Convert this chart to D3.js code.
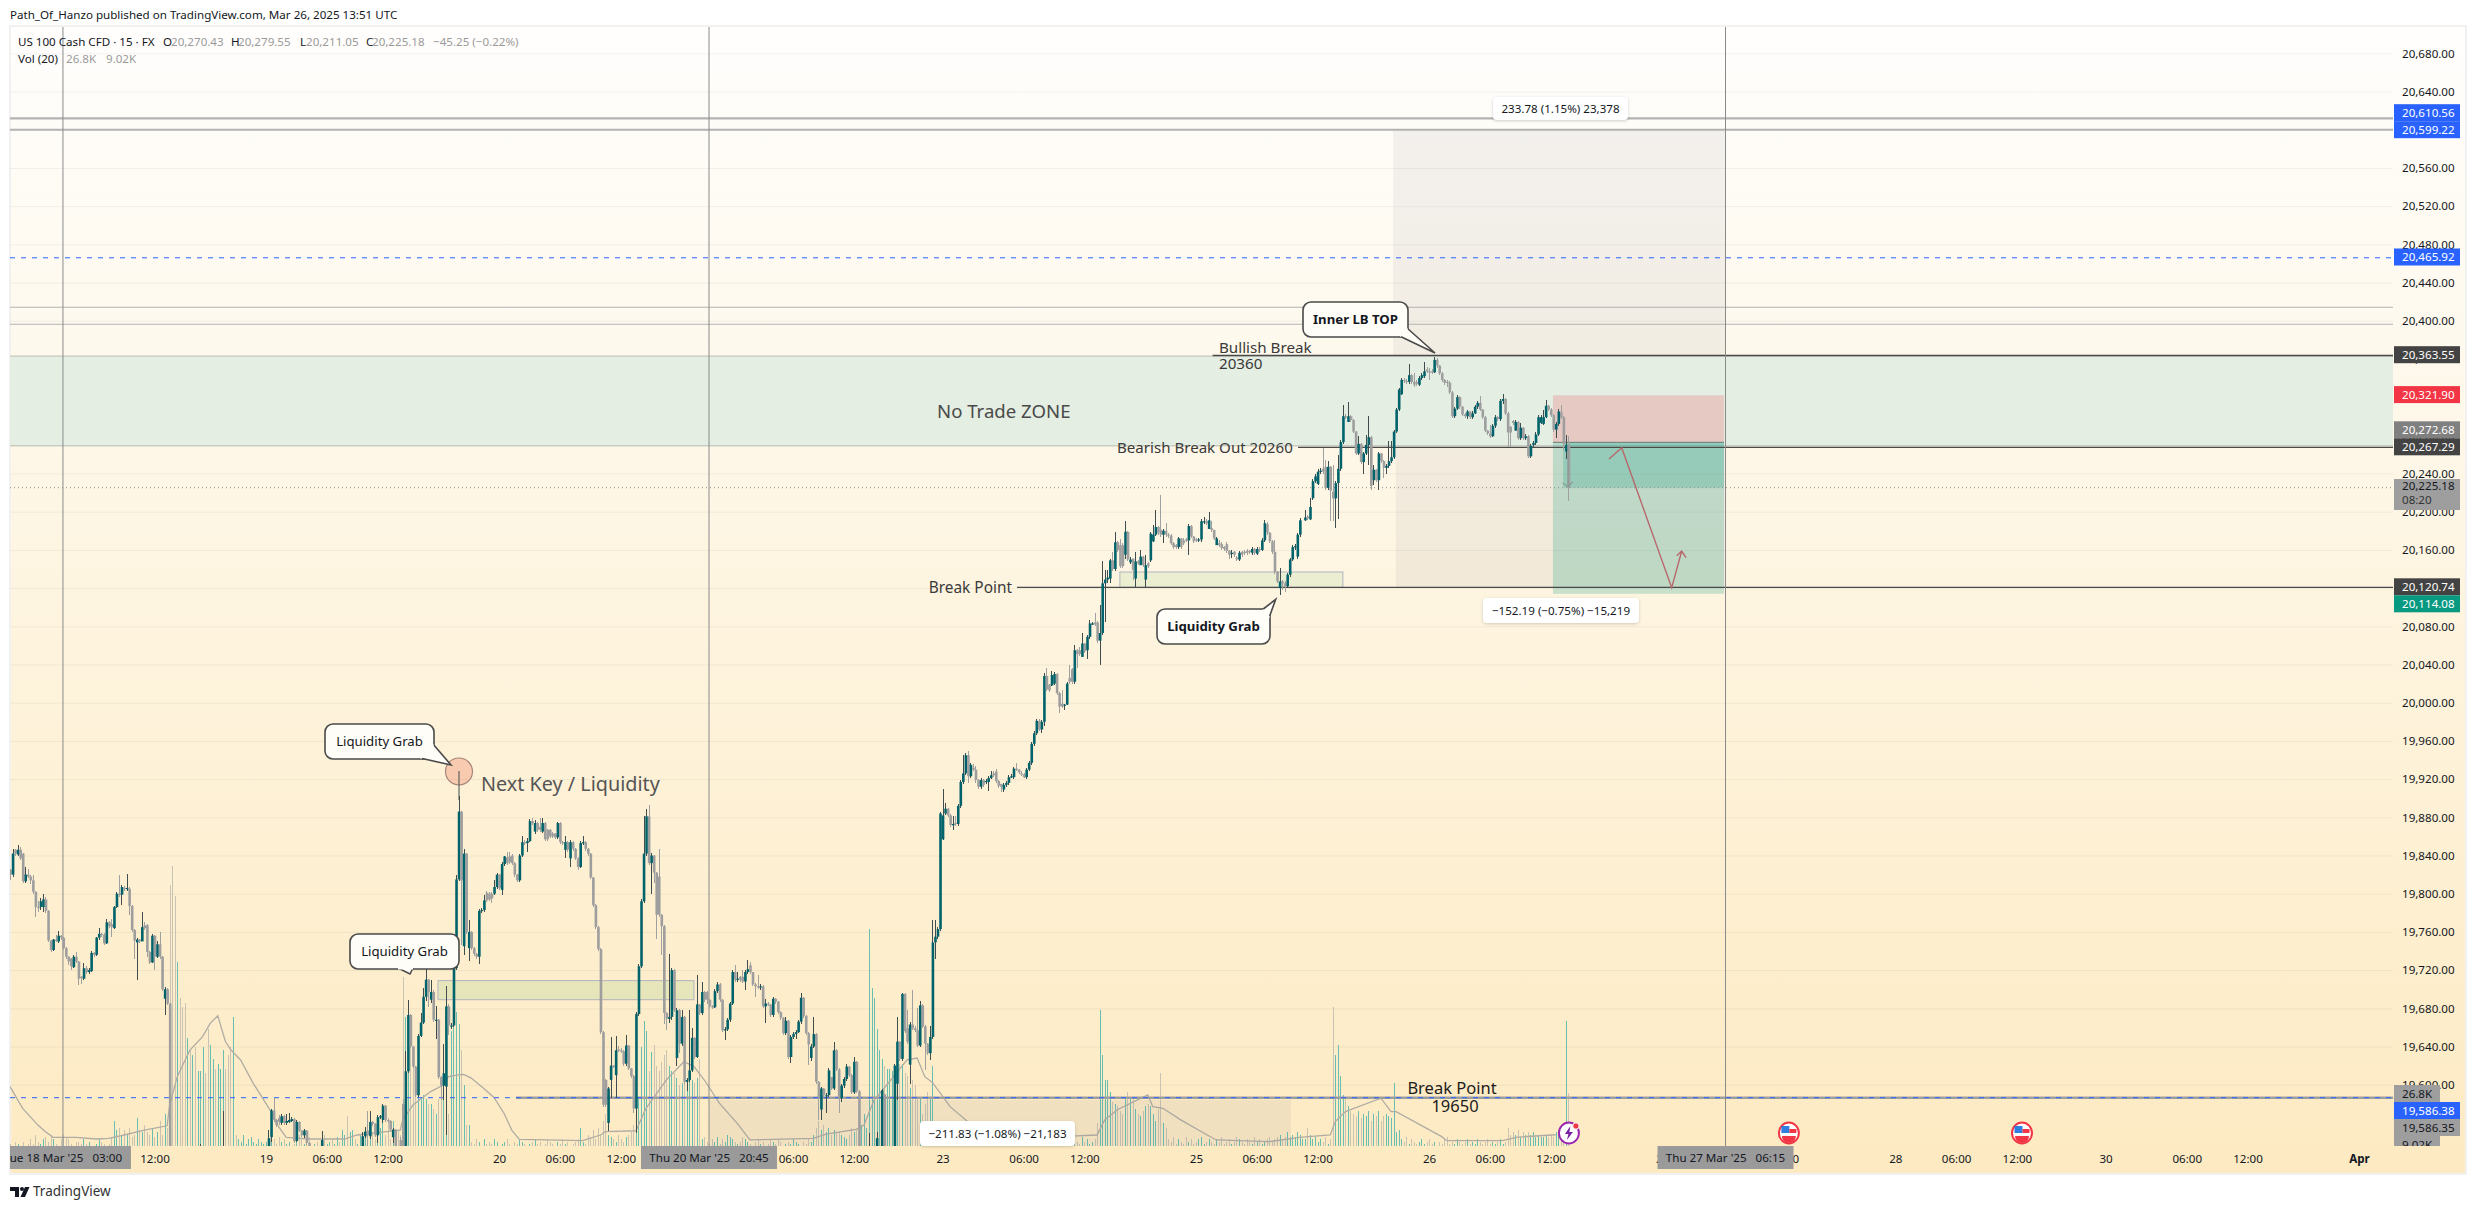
<!DOCTYPE html>
<html><head><meta charset="utf-8"><title>US 100 Cash CFD</title>
<script src="https://d3js.org/d3.v7.min.js"></script>
<style>html,body{margin:0;background:#fff}svg{display:block}text{font-family:"Noto Sans",sans-serif}</style>
</head><body><svg id="c" width="2475" height="1209"></svg>
<script>
// Candles: rows are [close, high, low, optional open]; open defaults to the previous close.
const segA=[[19820,19826,19814,19825],[19842,19847,19818],[19842,19847,19840,19846],[19846,19851,19840,19841],[19837,19849,19835],[19813,19843,19811,19842],[19820,19828,19811],[19818,19826,19816],[19814,19820,19810],[19802,19820,19800],
[19786,19803,19776],[19785,19792,19781],[19792,19795,19783,19786],[19794,19800,19781,19786],[19782,19797,19780],[19751,19783,19749],[19741,19752,19739],[19752,19753,19740],[19751,19757,19749],[19756,19761,19748,19750],
[19754,19757,19752],[19743,19755,19741],[19734,19744,19732],[19729,19735,19725],[19724,19733,19720,19732],[19734,19736,19722,19723],[19729,19739,19727],[19711,19730,19704],[19712,19714,19705,19713],[19722,19727,19710,19711],
[19718,19724,19716],[19720,19722,19716,19718],[19738,19740,19718,19719],[19736,19739,19734],[19754,19755,19735],[19758,19764,19752],[19757,19759,19755],[19748,19759,19746],[19770,19773,19747],[19766,19771,19764],
[19765,19773,19755,19768],[19786,19787,19763,19764],[19800,19802,19785],[19799,19820,19797],[19807,19809,19788],[19805,19808,19803,19806],[19806,19821,19803,19805],[19787,19807,19778,19805],[19762,19788,19760],[19751,19763,19732],
[19752,19754,19710,19749],[19750,19753,19748],[19765,19781,19750],[19764,19770,19762,19767],[19739,19768,19734,19767],[19728,19740,19726],[19756,19758,19727],[19734,19757,19720],[19747,19750,19733],[19734,19760,19732],
[19700,19735,19698],[19700,19702,19673,19690],[19685,19701,19683],[19535,19686,19520]];
const segB=[[19510,19538,19500,19500]]; const segBStart=75;
const segC=[[19510,19572,19500,19500]]; const segCStart=84;
const segD=[[19544,19553,19530,19530],[19573,19575,19540,19545],[19563,19586,19561],[19558,19564,19556],[19561,19568,19558,19565],[19567,19569,19558,19560],[19560,19568,19558],[19562,19569,19558,19560],[19563,19570,19560,19561],[19564,19566,19561,19562],
[19541,19565,19539,19564],[19561,19563,19540],[19552,19562,19550],[19547,19553,19545],[19552,19554,19544],[19539,19553,19537],[19533,19540,19525]]; const segDStart=102;
const segE=[[19542,19552,19525,19530]]; const segEStart=123;
const segF=[[19546,19550,19525,19533],[19551,19556,19544],[19547,19572,19535,19552],[19561,19572,19543,19546],[19559,19562,19557],[19547,19560,19545],[19566,19568,19539],[19567,19568,19564,19566],[19578,19580,19560,19563],[19563,19579,19561],
[19562,19564,19560],[19553,19563,19551],[19553,19555,19539,19545],[19535,19554,19530],[19530,19535,19525],[19535,19545,19528,19542],[19535,19585,19525,19580],[19614,19635,19525,19530],[19673,19689,19612],[19640,19674,19638],
[19619,19641,19617],[19589,19620,19587],[19651,19653,19587],[19665,19675,19650],[19692,19701,19664],[19710,19727,19688],[19697,19711,19681],[19697,19710,19686,19689],[19668,19699,19666,19697],[19668,19682,19648],
[19608,19669,19606],[19599,19609,19584],[19612,19643,19584,19599],[19682,19703,19547,19598],[19662,19684,19652],[19662,19665,19658],[19722,19724,19660],[19815,19820,19720],[19886,19902,19813],[19814,19887,19746,19886],
[19842,19847,19736,19745],[19760,19843,19758],[19760,19772,19730,19743],[19743,19761,19741,19760],[19737,19744,19735],[19734,19738,19732],[19782,19784,19726],[19783,19785,19780],[19793,19799,19781],[19793,19803,19791,19801],
[19794,19802,19792,19800],[19795,19802,19790,19800],[19807,19814,19799,19800],[19820,19822,19805],[19806,19821,19804],[19831,19833,19799,19804],[19839,19840,19829],[19832,19844,19830,19838],[19833,19844,19831,19839],[19832,19842,19830,19840],
[19820,19833,19818],[19814,19821,19812],[19840,19842,19812],[19854,19860,19838],[19853,19856,19851],[19855,19858,19844,19853],[19876,19878,19854],[19874,19879,19872],[19874,19877,19863,19865],[19867,19875,19865,19874],
[19867,19879,19865,19870],[19874,19879,19864,19865],[19857,19875,19855],[19857,19868,19855,19867],[19860,19868,19858,19867],[19860,19865,19858,19863],[19859,19864,19857,19863],[19874,19875,19857],[19854,19875,19852],[19853,19855,19851],
[19854,19860,19837,19846],[19846,19855,19844,19854],[19854,19856,19828,19837],[19847,19855,19845,19854],[19837,19848,19835],[19828,19838,19825],[19853,19855,19827],[19854,19860,19851],[19847,19855,19845],[19842,19848,19840],
[19817,19843,19815],[19788,19818,19786],[19765,19789,19763],[19742,19766,19740],[19655,19743,19653],[19579,19656,19577],[19579,19606,19577,19605],[19596,19598,19551,19560],[19620,19650,19586,19605],[19619,19621,19617],
[19636,19651,19586,19610],[19636,19640,19634,19637],[19635,19638,19633],[19622,19636,19620],[19641,19652,19620],[19617,19642,19615],[19609,19618,19607],[19575,19610,19570],[19674,19676,19549],[19724,19726,19672],
[19792,19794,19722],[19842,19881,19790],[19881,19889,19840],[19832,19893,19830],[19840,19843,19800],[19822,19841,19811],[19778,19823,19753],[19778,19847,19776,19818],[19766,19779,19736],[19675,19767,19664],
[19669,19676,19657],[19671,19737,19665],[19720,19722,19668],[19678,19721,19676],[19678,19680,19620,19628],[19643,19679,19633],[19671,19678,19641],[19603,19672,19601],[19605,19607,19593],[19615,19678,19603],
[19649,19659,19613],[19629,19650,19627],[19684,19715,19628],[19675,19685,19673],[19697,19708,19673],[19689,19698,19687],[19689,19698,19685,19697],[19682,19690,19680],[19681,19683,19679],[19698,19700,19680],
[19705,19708,19696],[19689,19706,19687],[19657,19690,19655],[19658,19660,19647],[19668,19670,19656],[19685,19687,19666],[19718,19720,19683],[19710,19725,19708],[19711,19718,19708],[19710,19714,19708,19713],
[19708,19720,19706,19713],[19718,19720,19699],[19721,19731,19716],[19718,19729,19716,19725],[19705,19717,19703],[19703,19706,19692],[19702,19715,19700],[19703,19705,19699],[19682,19704,19680],[19685,19690,19665],
[19684,19687,19682],[19673,19685,19671],[19690,19692,19671],[19687,19691,19685],[19676,19688,19674],[19670,19677,19668],[19654,19671,19652],[19667,19671,19652],[19629,19668,19627],[19650,19652,19623],
[19653,19655,19648],[19655,19657,19648],[19666,19668,19654],[19691,19696,19664],[19672,19692,19670],[19654,19673,19652],[19642,19655,19621],[19640,19643,19625,19628],[19653,19671,19638],[19603,19654,19601],
[19587,19604,19563],[19596,19598,19563,19574],[19589,19597,19587],[19589,19591,19570],[19615,19617,19587],[19596,19608,19594,19608],[19636,19645,19594],[19616,19637,19614],[19586,19617,19570],[19599,19601,19582],
[19606,19608,19597],[19619,19622,19604],[19610,19620,19608],[19592,19611,19590],[19624,19629,19590],[19593,19625,19591],[19535,19594,19525]]; const segFStart=139;
const segG=[[19515,19549,19505,19505]]; const segGStart=339;
const segH=[[19544,19550,19525,19530]]; const segHStart=342;
const segI=[[19594,19596,19525,19530],[19535,19590,19525,19590]]; const segIStart=344;
const segJ=[[19620,19622,19525,19530],[19645,19671,19584,19601],[19627,19646,19625],[19695,19696,19625],[19656,19696,19654],[19645,19678,19643,19659],[19663,19666,19601,19621],[19659,19699,19657,19663],[19657,19661,19655],[19641,19680,19639],
[19683,19688,19639],[19661,19684,19659],[19643,19662,19615],[19633,19644,19631],[19650,19661,19626],[19749,19772,19648],[19755,19772,19732],[19763,19765,19753],[19884,19886,19761],[19882,19910,19856,19857],
[19889,19895,19882,19884],[19882,19890,19880],[19872,19883,19870],[19873,19881,19867],[19873,19881,19871,19874],[19892,19894,19871],[19917,19919,19890],[19926,19945,19915],[19945,19947,19924],[19923,19949,19916],
[19935,19937,19921],[19930,19936,19928,19932],[19919,19934,19916],[19912,19920,19910],[19919,19921,19910],[19914,19920,19912],[19918,19920,19915,19917],[19921,19923,19908,19917],[19924,19928,19920],[19924,19928,19922,19926],
[19918,19931,19916,19928],[19913,19919,19911],[19912,19915,19907,19915],[19914,19916,19907,19909],[19916,19918,19912],[19922,19924,19914],[19923,19925,19921,19922]]; const segJStart=349;
const segK=[[19931,19933,19920,19922],[19930,19937,19928],[19927,19931,19925],[19925,19928,19923,19926],[19922,19926,19921,19925],[19930,19932,19920],[19937,19939,19928],[19957,19959,19935],[19968,19970,19955],[19981,19983,19966],
[19972,19983,19970],[19980,19982,19968,19972],[20028,20031,19976],[20014,20036,20012],[20013,20020,20011,20019],[20029,20033,20018,20018],[20030,20032,20019,20020],[20010,20031,20008],[19996,20011,19989],[19996,20013,19994,19999],
[19998,19999,19992,19997],[20020,20022,19998],[20022,20040,20020,20026],[20022,20036,20020,20035],[20055,20060,20020],[20051,20056,20036],[20051,20058,20049,20055],[20062,20073,20048,20048],[20054,20063,20052],[20069,20071,20046,20055],
[20083,20087,20067],[20083,20085,20081],[20082,20094,20080,20084],[20065,20086,20063,20084],[20073,20102,20040],[20125,20148,20071],[20129,20139,20085],[20131,20139,20125]]; const segKStart=396;
const segL=[[20149,20151,20125,20130],[20140,20158,20138],[20168,20179,20138],[20160,20169,20158],[20143,20171,20141,20165],[20143,20167,20141,20165],[20179,20190,20150,20155]]; const segLStart=434;
const segM=[[20150,20180,20148,20179],[20150,20153,20145,20147],[20139,20151,20129,20151],[20148,20158,20120,20130],[20146,20149,20144],[20153,20160,20144,20144],[20144,20154,20142],[20144,20155,20120,20129],[20143,20147,20141,20146],[20177,20179,20147,20149],
[20176,20186,20168,20169],[20184,20202,20175],[20178,20185,20176],[20176,20218,20174,20181],[20180,20182,20167,20176],[20176,20188,20174,20180],[20175,20178,20173,20176],[20167,20177,20165],[20163,20168,20161],[20163,20166,20161,20165],
[20172,20174,20161],[20163,20173,20161],[20167,20172,20165,20170],[20170,20173,20168,20171],[20185,20187,20155,20170],[20174,20186,20172],[20169,20175,20167],[20170,20172,20168,20171],[20171,20173,20168,20170],[20190,20192,20168],
[20190,20195,20187,20189],[20188,20192,20186,20190],[20191,20200,20182,20182],[20181,20190,20179,20183],[20172,20181,20170],[20172,20174,20165,20165],[20165,20170,20163,20167],[20162,20168,20160,20166],[20161,20164,20159,20163],[20159,20168,20157,20166],
[20155,20160,20150,20159],[20157,20160,20152,20156],[20155,20159,20153,20158],[20150,20154,20148,20152],[20157,20159,20148,20150],[20155,20159,20153,20158],[20157,20160,20155,20158],[20157,20161,20155,20159],[20158,20160,20156,20159],[20161,20163,20155,20157],
[20157,20162,20155,20161],[20161,20163,20155,20156],[20160,20163,20158,20161],[20170,20172,20159,20160],[20188,20191,20168],[20178,20189,20176,20187],[20169,20179,20167],[20158,20170,20156],[20137,20170,20135],[20127,20138,20125],
[20127,20141,20113,20120],[20125,20128,20118,20127],[20122,20127,20116],[20134,20136,20120],[20150,20152,20132],[20163,20165,20148],[20164,20166,20160,20163],[20176,20178,20150,20153],[20191,20193,20174]]; const segMStart=441;
const segN=[[20194,20202,20190,20191],[20193,20197,20191,20195],[20205,20214,20191,20192],[20232,20234,20212,20214],[20237,20239,20230,20232],[20242,20245,20228,20229],[20243,20246,20240,20242],[20242,20267,20240,20245],[20225,20254,20223,20247],[20247,20253,20223],
[20222,20248,20190],[20214,20249,20190,20221],[20230,20232,20183],[20245,20259,20192],[20273,20275,20243],[20300,20312,20271],[20299,20302,20297],[20300,20315,20294,20294],[20296,20301,20294,20300],[20284,20297,20282],
[20261,20285,20259],[20271,20279,20259],[20252,20272,20250],[20261,20263,20239,20252],[20270,20280,20259],[20278,20300,20249],[20227,20279,20223],[20244,20249,20228,20233],[20233,20245,20231],[20261,20263,20223],
[20253,20262,20251],[20246,20254,20235],[20248,20250,20240],[20253,20274,20246],[20257,20274,20251],[20284,20286,20255],[20307,20309,20282],[20328,20330,20305],[20338,20340,20322,20323],[20337,20340,20335],
[20336,20339,20334],[20343,20355,20334],[20336,20344,20334],[20333,20345,20331],[20334,20338,20332,20336],[20340,20342,20332,20333],[20343,20345,20338],[20347,20357,20340,20342],[20347,20352,20345,20349],[20346,20351,20338],
[20346,20349,20344,20347],[20359,20362,20345],[20353,20361,20351],[20345,20354,20343],[20338,20346,20336],[20335,20339,20333],[20335,20338,20331,20336],[20325,20337,20323],[20300,20326,20298],[20308,20310,20298],
[20320,20322,20307],[20310,20321,20308],[20302,20311,20300],[20300,20303,20298],[20305,20307,20297],[20299,20306,20297],[20303,20305,20297],[20310,20312,20302],[20314,20316,20308],[20307,20321,20305,20314],
[20299,20308,20297],[20285,20300,20283],[20282,20286,20280],[20279,20291,20277],[20290,20292,20278],[20299,20301,20288],[20297,20300,20295],[20316,20318,20295],[20318,20323,20313,20316],[20303,20319,20301],
[20283,20304,20268],[20283,20290,20268,20289],[20293,20296,20291,20295],[20294,20296,20285,20285],[20277,20295,20275,20294],[20288,20293,20275],[20277,20289,20275],[20279,20281,20275],[20258,20280,20256]]; const segNStart=511;
const segO=[[20269,20271,20256,20258],[20272,20274,20268,20270],[20281,20283,20270],[20299,20301,20279],[20299,20301,20292,20293],[20299,20307,20291,20292],[20311,20317,20298],[20307,20312,20305],[20301,20309,20299],[20286,20302,20284],
[20292,20294,20277],[20305,20308,20290],[20299,20312,20297,20304],[20271,20300,20265,20299],[20270,20280,20255,20263],[20225.18,20279.55,20211.05,20270.43]]; const segOStart=600;
const candleSegments=[[0,segA],[segBStart,segB],[segCStart,segC],[segDStart,segD],[segEStart,segE],[segFStart,segF],[segGStart,segG],[segHStart,segH],[segIStart,segI],[segJStart,segJ],[segKStart,segK],[segLStart,segL],[segMStart,segM],[segNStart,segN],[segOStart,segO]];

// Volume in thousands, consecutive bars from index 0.
const volumes=[5,4,6,5,4,6,3,5,7,5,9,6,5,7,8,6,9,7,5,4,
7,9,8,7,5,4,6,6,5,7,5,6,4,3,5,7,6,5,4,5,
8,15,11,12,9,11,9,12,8,9,16,11,10,13,10,9,12,8,10,15,
9,18,12,115,123,110,82,67,63,65,50,45,43,46,36,36,46,35,54,47,41,37,39,37,45,37,43,46,59,9,
7,6,9,5,7,8,6,5,7,6,5,6,8,9,7,5,8,6,7,5,
6,4,5,7,9,7,5,6,8,4,5,6,3,5,9,5,6,7,5,8,
6,11,9,17,10,11,7,5,9,8,11,7,9,10,7,9,12,22,9,16,7,15,9,11,9,
76,59,66,46,43,35,28,25,26,24,22,22,20,18,24,29,32,25,18,53,60,61,56,
45,30,13,13,
6,5,7,6,4,7,5,6,5,7,6,4,5,6,7,5,4,6,5,7,6,5,4,5,6,7,5,6,4,5,7,6,5,4,6,5,7,5,6,4,5,6,7,
12,6,5,9,8,11,7,12,9,15,18,
9,8,7,6,9,7,6,8,9,10,13,32,25,46,57,53,36,44,47,38,36,40,43,45,38,36,35,33,30,31,40,30,34,32,31,33,41,
7,8,6,5,7,6,8,5,7,6,9,8,7,6,5,6,8,7,6,5,4,6,7,5,6,4,5,7,6,5,7,6,4,5,6,5,7,6,5,4,6,5,7,6,
9,12,15,11,13,10,12,9,11,10,10,9,8,7,9,12,10,11,11,13,18,
12,96,71,67,54,45,41,38,37,37,36,38,39,39,39,35,34,29,32,30,25,25,18,22,27,25,38,
7,6,8,5,7,6,7,5,6,8,7,5,6,7,6,5,8,6,7,5,6,7,5,6,8,7,6,5,7,6,5,7,8,6,5,7,6,8,5,6,7,6,5,7,6,8,5,6,7,5,6,7,8,6,5,7,6,5,8,6,7,5,6,7,
14,62,43,32,32,27,23,22,21,19,18,24,27,25,24,20,18,17,19,21,22,21,18,15,20,35,14,12,
7,6,8,5,7,6,5,8,6,7,5,6,7,8,5,6,7,6,5,7,6,8,5,6,7,5,6,8,7,6,5,7,6,5,8,6,7,5,6,7,8,6,7,8,9,7,8,10,8,9,8,10,9,7,
7,12,9,7,8,6,7,6,8,5,7,
63,43,47,34,26,24,21,19,18,17,19,16,18,17,19,15,18,17,19,15,17,18,17,16,31,10,11,
7,6,8,5,7,6,5,6,7,5,6,7,5,6,4,6,5,7,8,5,6,5,7,6,5,6,7,5,6,5,7,6,5,6,7,5,6,5,6,7,5,6,
12,9,10,9,11,8,10,9,10,9,10,8,9,8,8,9,8,9,8,10,9,11,9,57,26.8];
const hiddenDownBars=[64,65,67,68,69,71,73,75,77,78,81,85,86,87,89,119,121,124,127,130,133,136];

const volMaBars=[0,5,11,14,17,26,34,39,45,53,62,63,66,71,76,79,82,85,87,91,96,103,106,109,118,132,137,145,154,155,159,166,171,173,177,179,182,187,191,195,198,201,226,233,235,247,251,259,266,270,274,280,287,292,317,322,334,337,341,346,354,358,361,364,371,378,390,421,429,432,437,449,451,455,462,469,476,497,509,521,523,527,541,545,547,565,567,589,595,610];
const volMaValues=[29.4,20.2,13.1,10.3,7.9,7.9,7.2,7.5,8.9,11,12.8,21.6,33.6,44.9,50.6,56.2,59.4,48.5,45.2,40.7,30.8,18.8,12.4,7.9,7.2,7.2,8.9,9.9,11,15.3,21.6,27.3,30.1,33.6,34.4,34.6,33,28.6,24.8,18,11,7,6.5,8.9,10.3,10.7,20.2,32.2,40,37.8,32.2,22.3,13.8,6.8,7.5,9.3,11.3,13.1,23.7,30.1,40.7,41.5,33.6,31.2,20.9,14.5,6.8,8.5,8.9,15.3,19.6,25.9,20.9,20.2,15.3,11,6.8,6.1,7.9,8.9,14.6,18.8,24.5,18.8,18.8,8.2,6.5,6.5,8,9];

const priceTicks=d3.range(19600,20681,40);
const timeTickBars=[9.3,33,57,101,125,149,193,217,241,285,309,333,368,400,424,468,492,516,560,584,608,652,676,700,744,768,792,827,859,883,927];
const timeTickLabels=["","","12:00","19","06:00","12:00","20","06:00","12:00","","06:00","12:00","23","06:00","12:00","25","06:00","12:00","26","06:00","12:00","27","","12:00","28","06:00","12:00","30","06:00","12:00","Apr"];
const crosshairBars=[20.9,275.85,677];
const crosshairLabels=["Tue 18 Mar '25   03:00","Thu 20 Mar '25   20:45","Thu 27 Mar '25   06:15"];
const eventBars=[702,794];

const svg=d3.select("#c");
const paneL=10,paneR=2393,paneT=27,paneB=1146;
const barPx=2.534;
const lastBar=941;
const X=d3.scaleLinear().domain([0,927]).range([paneL,paneL+927*barPx]);
const Y=d3.scaleLinear().domain([19535.8,20707.6]).range([paneB,paneT]);
const V=d3.scaleLinear().domain([0,100]).range([1156,920]);
const defs=svg.append("defs");
const g=defs.append("linearGradient").attr("id","bg").attr("x1",0).attr("x2",0).attr("y1",0).attr("y2",1);
g.append("stop").attr("offset",0).attr("stop-color","#fffefd");
g.append("stop").attr("offset",.33).attr("stop-color","#fef8ea");
g.append("stop").attr("offset",1).attr("stop-color","#fdeac2");
defs.append("clipPath").attr("id","pane").append("rect").attr("x",paneL).attr("y",paneT).attr("width",paneR-paneL).attr("height",paneB-paneT);
defs.append("clipPath").attr("id","axisclip").append("rect").attr("x",paneL).attr("y",paneB).attr("width",paneR-paneL).attr("height",30);
defs.append("clipPath").attr("id","labclip").append("rect").attr("x",2390).attr("y",paneT).attr("width",80).attr("height",paneB-paneT);
const sh=defs.append("filter").attr("id","sh").attr("x","-10%").attr("y","-20%").attr("width","120%").attr("height","150%");
sh.append("feDropShadow").attr("dx",0).attr("dy",1).attr("stdDeviation",1.5).attr("flood-color","#000").attr("flood-opacity",.18);

svg.append("rect").attr("x",paneL).attr("y",26).attr("width",2466-paneL).attr("height",1174-26).attr("fill","url(#bg)").attr("stroke","#f1f1f1").attr("stroke-width",2);

// Grid + axes through d3 axes
const gridY=svg.append("g").attr("transform",`translate(${paneL},0)`).call(d3.axisRight(Y).tickValues(priceTicks).tickSize(paneR-paneL).tickFormat(""));
gridY.select(".domain").remove();gridY.selectAll("line").attr("stroke","#2a2e39").attr("stroke-opacity",.06);
const gridX=svg.append("g").attr("clip-path","url(#pane)").attr("transform",`translate(0,${paneB})`).call(d3.axisTop(X).tickValues(timeTickBars).tickSize(paneB-paneT).tickFormat(""));
gridX.select(".domain").remove();gridX.selectAll("line").attr("stroke","#2a2e39").attr("stroke-opacity",.07);

const pane=svg.append("g").attr("clip-path","url(#pane)");
// volume
const bars=[];let prev=null;
candleSegments.forEach(([s,rows])=>rows.forEach((r,k)=>{const o=r[3]!==undefined?r[3]:(prev===null?r[0]:prev);bars.push({i:s+k,o,c:r[0],h:r[1],l:r[2]});prev=r[0];}));
const byI=new Map(bars.map(b=>[b.i,b]));
const isUp=i=>{const b=byI.get(i);return b?b.c>=b.o:!hiddenDownBars.includes(i);};
pane.append("g").attr("shape-rendering","crispEdges").selectAll("rect").data(volumes).join("rect")
 .attr("x",(d,i)=>Math.round(X(i))).attr("width",1).attr("y",d=>V(d)).attr("height",d=>Math.max(0,V(0)-V(d)))
 .attr("fill",(d,i)=>isUp(i)?"#68bfb1":"#c9c3b4");
pane.append("path").datum(volMaBars.map((b,k)=>[b,volMaValues[k]])).attr("fill","none").attr("stroke","#b0aca4").attr("stroke-width",1.3)
 .attr("d",d3.line().x(d=>X(d[0])).y(d=>V(d[1])));

// zones
const zoneProps=(sel,x0,x1,p0,p1)=>sel.attr("x",X(x0)).attr("width",X(x1)-X(x0)).attr("y",Y(p0)).attr("height",Y(p1)-Y(p0));
const shade="rgba(120,123,134,.09)";
zoneProps(pane.append("rect").attr("fill","#e4eee3"),0,lastBar,20363,20269);
[20363,20269].forEach(p=>pane.append("line").attr("x1",paneL).attr("x2",paneR).attr("y1",Y(p)).attr("y2",Y(p)).attr("stroke","#b8bcb4").attr("stroke-width",1));
zoneProps(pane.append("rect").attr("fill",shade),545.8,677,20599.22,20363.55);
zoneProps(pane.append("rect").attr("fill",shade),546.9,677,20267.29,20120.74);
zoneProps(pane.append("rect").attr("fill",shade),275.85,505.5,19584,19372);
zoneProps(pane.append("rect").attr("fill","rgba(76,175,80,.13)").attr("stroke","#b2b5be").attr("stroke-width",1),168.9,269.9,19709,19689);
zoneProps(pane.append("rect").attr("fill","rgba(76,175,80,.1)").attr("stroke","#b2b5be").attr("stroke-width",1),438,526,20136.9,20120.74);
// short position
zoneProps(pane.append("rect").attr("fill","rgba(242,54,69,.2)"),608.9,676.4,20321.9,20272.68);
zoneProps(pane.append("rect").attr("fill","rgba(8,153,129,.22)"),608.9,676.4,20272.68,20114.08);
zoneProps(pane.append("rect").attr("fill","rgba(8,153,129,.22)"),612.9,676.4,20272.68,20225.18);
pane.append("line").attr("x1",X(608.9)).attr("x2",X(676.4)).attr("y1",Y(20272.68)).attr("y2",Y(20272.68)).attr("stroke","#6e7a74").attr("stroke-width",1);

// horizontal lines
const hLines=[[20612,0,"#b3b3b3",2.2],[20600,0,"#b3b3b3",2.2],[20414.1,0,"#b2b2b2",1.1],[20396.3,0,"#b2b2b2",1.1],[20363.55,474.6,"#4a4a4a",1.4],[20267.29,508.3,"#4a4a4a",1.3],[20120.74,397.4,"#4a4a4a",1.3],[19586.35,199.7,"#9e9e9e",2.4]];
hLines.forEach(([p,b,c,w])=>pane.append("line").attr("x1",X(b)).attr("x2",paneR).attr("y1",Y(p)).attr("y2",Y(p)).attr("stroke",c).attr("stroke-width",w));
[20465.92,19586.38].forEach(p=>pane.append("line").attr("x1",paneL).attr("x2",paneR).attr("y1",Y(p)).attr("y2",Y(p)).attr("stroke","#2962ff").attr("stroke-width",1).attr("stroke-dasharray","5 6"));
pane.append("line").attr("x1",paneL).attr("x2",paneR).attr("y1",Y(20225.18)).attr("y2",Y(20225.18)).attr("stroke","#8d8d8d").attr("stroke-width",1).attr("stroke-dasharray","1 3");
pane.selectAll(".cross").data(crosshairBars).join("line").attr("x1",d=>X(d)).attr("x2",d=>X(d)).attr("y1",paneT).attr("y2",paneB).attr("stroke","#8a8a8a").attr("stroke-width",1);

// candles
const cg=pane.append("g");
cg.selectAll(".w").data(bars).join("rect").attr("x",d=>Math.round(X(d.i))).attr("width",1).attr("y",d=>Y(d.h)).attr("height",d=>Math.max(1,Y(d.l)-Y(d.h))).attr("fill",d=>d.c>=d.o?"#3f4d4f":"#a0a0a0").attr("shape-rendering","crispEdges");
cg.selectAll(".b").data(bars).join("rect").attr("x",d=>X(d.i)-.75).attr("width",2.6).attr("y",d=>Y(Math.max(d.o,d.c))).attr("height",d=>Math.max(1.2,Math.abs(Y(d.o)-Y(d.c)))).attr("fill",d=>d.c>=d.o?"#00636b":"#9e9e9e");

// drawings
pane.append("path").attr("fill","none").attr("stroke","#b8686c").attr("stroke-width",1.4).attr("d","M1609 459 L1621.7 447.7 L1671.7 587.7 L1681.7 551 M1676.7 555.7 L1681.7 551 L1686 557.7");
pane.append("path").attr("fill","none").attr("stroke","#8a9a96").attr("stroke-width",1.2).attr("d","M1568 445 L1568 487 M1562.7 483 L1568 487 L1572.7 481.7");
pane.append("circle").attr("cx",459).attr("cy",771.5).attr("r",13.5).attr("fill","rgba(239,120,90,.32)").attr("stroke","#a9867c").attr("stroke-width",1.2);
pane.append("line").attr("x1",459).attr("x2",459).attr("y1",771).attr("y2",800).attr("stroke","#3f4d4f");

function text(t,x,y,o={}){const e=svg.append("text").attr("x",x).attr("y",y).text(t).attr("font-size",o.s||12).attr("fill",o.c||"#131722");
 if(o.a)e.attr("text-anchor",o.a);if(o.w)e.attr("font-weight",o.w);return e;}
function callout(x0,y0,x1,y1,a,tip,b,label,bold){
 const fill="#fffdf7",st="#4a4a4a";
 svg.append("rect").attr("x",x0).attr("y",y0).attr("width",x1-x0).attr("height",y1-y0).attr("rx",8).attr("fill",fill).attr("stroke",st).attr("stroke-width",1.6);
 svg.append("path").attr("d",`M${a} L${tip} L${b}`).attr("fill",fill).attr("stroke",st).attr("stroke-width",1.6);
 svg.append("line").attr("x1",a[0]).attr("y1",a[1]).attr("x2",b[0]).attr("y2",b[1]).attr("stroke",fill).attr("stroke-width",3);
 text(label,(x0+x1)/2,(y0+y1)/2+4.5,{s:13.2,a:"middle",w:bold?700:400,c:"#131722"});
}
callout(325,724,434,759,[433,744],[451,765],[420,758],"Liquidity Grab");
callout(350,934,459,969,[398,968],[410,974],[413,968],"Liquidity Grab");
callout(1303,302,1408,337,[1407,328],[1435,353],[1399.5,336],"Inner LB TOP",true);
callout(1157,609,1270,644,[1262,610],[1275.7,599.3],[1269,618],"Liquidity Grab",true);

const ann="#3a3a3a";
text("Next Key / Liquidity",481,791,{s:19.8,c:"#555"});
text("No Trade ZONE",937,418,{s:18.6,c:"#4a4a4a"});
text("Bullish Break",1219,353,{s:15.2,c:ann});
text("20360",1219,369,{s:15.2,c:ann});
text("Bearish Break Out 20260",1117,452.7,{s:15.1,c:ann});
text("Break Point",1012,592.7,{s:15.4,a:"end",c:ann});
text("Break Point",1452,1094,{s:16.5,a:"middle",c:"#1c1c1c"});
text("19650",1455,1111.6,{s:16.5,a:"middle",c:"#1c1c1c"});

function pill(x0,x1,y0,y1,t){svg.append("rect").attr("x",x0).attr("y",y0).attr("width",x1-x0).attr("height",y1-y0).attr("rx",4).attr("fill","#fff").attr("filter","url(#sh)");
 text(t,(x0+x1)/2,(y0+y1)/2+4,{s:11.6,a:"middle"});}
pill(1493,1628,97,120,"233.78 (1.15%) 23,378");
pill(1483,1639,598,623,"−152.19 (−0.75%) −15,219");
pill(920,1075,1121,1146,"−211.83 (−1.08%) −21,183");

// event icons
const iconY=1133;
eventBars.forEach(b=>{const x=X(b);const gi=svg.append("g").attr("transform",`translate(${x},${iconY})`);
 gi.append("ellipse").attr("rx",10).attr("ry",10.5).attr("fill","#fff").attr("stroke","#f23645").attr("stroke-width",2);
 gi.append("rect").attr("x",-7.5).attr("y",-7).attr("width",8).attr("height",7).attr("fill","#2f7fe0");
 gi.append("rect").attr("x",.5).attr("y",-4).attr("width",7).attr("height",4).attr("fill","#f23645");
 gi.append("path").attr("d","M-7 3 H7 A7 7 0 0 1 -7 3Z").attr("fill","#f23645");
});
const ev=svg.append("g").attr("transform",`translate(${X(615.2)},${iconY})`);
ev.append("ellipse").attr("rx",10).attr("ry",10.5).attr("fill","#fff").attr("stroke","#9c27b0").attr("stroke-width",2);
ev.append("path").attr("d","M1.5 -7 L-4 1 H-.5 L-2 7 L4 -1 H.5Z").attr("fill","#7b1fa2");
ev.append("circle").attr("cx",7).attr("cy",-7).attr("r",3.2).attr("fill","#f23645").attr("stroke","#fff");

// axes
const ax=svg.append("g").attr("transform",`translate(${paneR+9},0)`).call(d3.axisRight(Y).tickValues(priceTicks).tickSize(0).tickPadding(0).tickFormat(d3.format(",.2f")));
ax.select(".domain").remove();ax.selectAll("text").attr("font-family",'"Noto Sans"').attr("font-size",11.6).attr("fill","#131722");
const bx=svg.append("g").attr("clip-path","url(#axisclip)");
const bxi=bx.append("g").attr("transform",`translate(0,${paneB})`).call(d3.axisBottom(X).tickValues(timeTickBars).tickSize(0).tickPadding(9).tickFormat((d,i)=>timeTickLabels[i]));
bxi.select(".domain").remove();bxi.selectAll("text").attr("font-family",'"Noto Sans"').attr("font-size",11.6).attr("fill","#131722").attr("font-weight",(d,i)=>timeTickLabels[i]==="Apr"?700:400);
// crosshair labels
crosshairBars.forEach((b,k)=>{const x=X(b);const h=bx.append("g");
 h.append("rect").attr("x",x-68).attr("width",136).attr("y",paneB).attr("height",23).attr("fill","#9a9a9a");
 h.append("text").attr("x",x).attr("y",paneB+16).attr("text-anchor","middle").attr("font-size",11.6).attr("fill","#131722").attr("xml:space","preserve").text(crosshairLabels[k]);
});
// price labels
const priceLabels=[
 ["20,610.56",112.7,"#2962ff","#fff",66],["20,599.22",129.7,"#2962ff","#fff",66],["20,465.92",257,"#2962ff","#fff",66],
 ["20,363.55",354.7,"#434343","#fff",66],["20,321.90",394.6,"#f23645","#fff",66],["20,272.68",429.8,"#808080","#fff",66],["20,267.29",446.8,"#434343","#fff",66],
 ["20,120.74",586.8,"#434343","#fff",66],["20,114.08",603.8,"#089981","#fff",66],
 ["26.8K",1093.5,"#9e9e9e","#131722",46],["19,586.38",1110.5,"#2962ff","#fff",66],["19,586.35",1127.5,"#9e9e9e","#131722",66],["9.02K",1144.5,"#9e9e9e","#131722",46]];
const pl=svg.append("g").attr("clip-path","url(#labclip)");
svg.append("rect").attr("x",2394).attr("y",479).attr("width",66).attr("height",31).attr("fill","#9e9e9e");
text("20,225.18",2402,490,{s:11.6});text("08:20",2402,504,{s:11.6,c:"#333"});
priceLabels.forEach(([t,y,bg,fg,w])=>{pl.append("rect").attr("x",2394).attr("y",y-8.5).attr("width",w).attr("height",17).attr("fill",bg);
 pl.append("text").attr("x",2402).attr("y",y+4).attr("font-size",11.6).attr("fill",fg).text(t);});

// header, legend, footer
text("Path_Of_Hanzo published on TradingView.com, Mar 26, 2025 13:51 UTC",10,19,{s:11.6});
text("US 100 Cash CFD · 15 · FX",18,46,{s:11.6});
[["O",163,"20,270.43",171],["H",231,"20,279.55",238],["L",300,"20,211.05",306],["C",366,"20,225.18",372]].forEach(([a,x,b,x2])=>{text(a,x,46,{s:11.6});text(b,x2,46,{s:11.6,c:"#9a9a9a"});});
text("−45.25 (−0.22%)",433,46,{s:11.6,c:"#9a9a9a"});
text("Vol (20)",18,63,{s:11.6});text("26.8K",66,63,{s:11.6,c:"#9a9a9a"});text("9.02K",106,63,{s:11.6,c:"#9a9a9a"});
svg.append("path").attr("d","M10 1187 H19 V1197 H15 V1191 H10Z M29.5 1187 L25 1197 H20.5 L25 1187Z").attr("fill","#131722");
svg.append("circle").attr("cx",22).attr("cy",1189).attr("r",2).attr("fill","#131722");
text("TradingView",33,1196,{s:13.5,c:"#333"});
</script></body></html>
